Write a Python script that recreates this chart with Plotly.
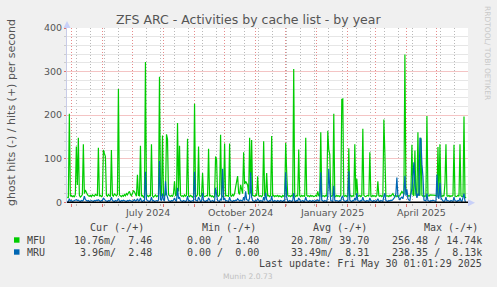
import datetime as dt
import plotly.graph_objects as go

# ---------------- data ----------------
start_day = dt.date(2024, 4, 27)

mfu_hits = [
    12, 10, 203, 14, 16, 13, 15, 12, 18, 128,
    40, 148, 16, 12, 14, 18, 133, 20, 28, 22,
    18, 15, 14, 16, 13, 17, 15, 14, 18, 16,
    15, 125, 14, 16, 13, 15, 120, 112, 105, 16,
    14, 18, 15, 13, 120, 16, 14, 20, 17, 15,
    18, 260, 17, 15, 13, 16, 14, 18, 15, 20,
    17, 22, 25, 18, 15, 20, 27, 24, 18, 14,
    63, 16, 15, 130, 14, 16, 12, 15, 322, 18,
    15, 13, 16, 14, 133, 15, 12, 14, 17, 13,
    15, 16, 288, 20, 14, 153, 16, 15, 18, 156,
    145, 18, 15, 14, 16, 13, 20, 48, 15, 17,
    182, 25, 130, 16, 14, 15, 13, 17, 14, 16,
    146, 15, 13, 16, 14, 12, 15, 226, 16, 14,
    18, 128, 15, 14, 16, 67, 15, 13, 14, 16,
    15, 123, 14, 16, 13, 15, 12, 14, 105, 98,
    15, 14, 17, 155, 16, 13, 15, 135, 14, 16,
    15, 13, 135, 16, 14, 18, 15, 20, 35, 45,
    60, 22, 18, 40, 25, 20, 115, 42, 48, 45,
    40, 18, 148, 20, 143, 16, 15, 14, 17, 15,
    60, 16, 14, 15, 13, 16, 140, 15, 14, 67,
    14, 16, 13, 15, 152, 14, 16, 13, 15, 14,
    16, 13, 15, 14, 12, 16, 14, 15, 136, 67,
    16, 14, 15, 13, 16, 14, 306, 15, 13, 16,
    14, 121, 15, 13, 16, 14, 15, 13, 148, 16,
    14, 15, 13, 16, 14, 15, 13, 14, 16, 14,
    25, 15, 14, 161, 16, 14, 15, 13, 16, 14,
    164, 121, 110, 15, 14, 16, 203, 15, 13, 16,
    14, 15, 13, 16, 236, 237, 15, 14, 16, 13,
    15, 124, 14, 16, 13, 15, 14, 133, 16, 54,
    15, 14, 16, 13, 15, 169, 16, 14, 13, 15,
    16, 14, 115, 15, 13, 16, 14, 15, 13, 16,
    48, 15, 14, 16, 13, 15, 190, 113, 16, 14,
    15, 13, 16, 14, 18, 20, 15, 14, 16, 13,
    15, 14, 16, 20, 25, 22, 18, 339, 30, 18,
    16, 14, 15, 20, 132, 18, 15, 119, 16, 14,
    161, 20, 15, 148, 16, 14, 15, 13, 16, 198,
    16, 14, 17, 17, 17, 17, 17, 17, 16, 15,
    127, 14, 133, 15, 13, 16, 14, 44, 133, 15,
    14, 16, 13, 15, 14, 16, 132, 15, 13, 14,
    16, 14, 133, 15, 13, 14, 197, 12, 10,
]

mru_hits = [
    3, 2, 8, 3, 4, 2, 3, 4, 5, 6,
    4, 5, 3, 2, 4, 3, 5, 14, 6, 4,
    3, 4, 2, 3, 4, 3, 2, 4, 3, 5,
    4, 6, 3, 2, 4, 3, 10, 5, 4, 3,
    2, 4, 3, 5, 12, 4, 3, 2, 4, 3,
    4, 9, 3, 2, 4, 3, 5, 4, 3, 2,
    4, 3, 5, 4, 3, 2, 4, 6, 3, 4,
    8, 3, 4, 10, 3, 2, 4, 3, 70, 6,
    4, 3, 2, 4, 12, 3, 4, 2, 3, 4,
    3, 5, 95, 6, 4, 20, 5, 4, 48, 18,
    12, 4, 3, 2, 4, 3, 5, 10, 4, 3,
    33, 8, 12, 4, 3, 2, 4, 3, 2, 4,
    14, 3, 4, 2, 3, 4, 3, 70, 5, 4,
    3, 12, 4, 2, 3, 22, 4, 3, 2, 4,
    3, 10, 4, 2, 3, 4, 2, 3, 33, 12,
    4, 3, 2, 8, 4, 77, 5, 10, 3, 4,
    3, 2, 12, 4, 3, 2, 4, 3, 5, 4,
    8, 4, 3, 5, 4, 3, 12, 4, 25, 6,
    5, 3, 10, 69, 12, 4, 3, 2, 4, 3,
    8, 3, 2, 4, 3, 2, 12, 4, 22, 6,
    3, 2, 4, 3, 14, 3, 2, 4, 3, 2,
    4, 3, 2, 4, 3, 2, 4, 3, 69, 12,
    3, 2, 4, 3, 2, 4, 21, 3, 2, 4,
    3, 10, 4, 2, 3, 4, 2, 3, 12, 4,
    3, 2, 4, 3, 2, 4, 3, 2, 4, 3,
    6, 3, 4, 69, 5, 3, 2, 4, 3, 2,
    14, 77, 30, 4, 3, 2, 38, 5, 3, 4,
    3, 2, 4, 3, 12, 14, 4, 3, 2, 4,
    3, 71, 5, 3, 2, 4, 3, 10, 4, 21,
    4, 3, 2, 4, 3, 12, 4, 3, 2, 4,
    3, 2, 10, 4, 3, 2, 4, 3, 2, 4,
    8, 3, 2, 4, 3, 2, 14, 21, 4, 3,
    2, 4, 3, 5, 4, 6, 8, 12, 20, 57,
    15, 8, 5, 10, 12, 8, 20, 61, 15, 30,
    8, 5, 4, 20, 30, 60, 92, 40, 25, 10,
    20, 15, 148, 145, 87, 60, 5, 4, 3, 20,
    4, 3, 2, 4, 3, 5, 4, 3, 2, 64,
    12, 8, 45, 10, 5, 3, 2, 4, 12, 3,
    4, 3, 2, 4, 3, 2, 12, 4, 3, 2,
    4, 3, 10, 3, 2, 14, 20, 3, 2,
]

dates = [start_day + dt.timedelta(days=i) for i in range(len(mfu_hits))]

title_text = "ZFS ARC - Activities by cache list - by year"
y_title = "ghost hits (-) / hits (+) per second"
y_ticks = [0, 100, 200, 300, 400]
y_minor_ticks = [20, 40, 60, 80, 120, 140, 160, 180, 220, 240, 260, 280, 320, 340, 360, 380]
month_labels = ["July 2024", "October 2024", "January 2025", "April 2025"]
month_label_dates = ["2024-07-16 12:00", "2024-10-16 12:00", "2025-01-16 00:00", "2025-04-16 00:00"]
month_starts = ["2024-05-01", "2024-06-01", "2024-07-01", "2024-08-01", "2024-09-01",
                "2024-10-01", "2024-11-01", "2024-12-01", "2025-01-01", "2025-02-01",
                "2025-03-01", "2025-04-01", "2025-05-01"]

legend_header = ["Cur (-/+)", "Min (-/+)", "Avg (-/+)", "Max (-/+)"]
series_names = ["MFU", "MRU"]
series_colors = ["#00CC00", "#0066B3"]
stats_rows = [
    ["10.76m/  7.46", "0.00 /  1.40", "20.78m/ 39.70", "256.48 / 14.74k"],
    [" 3.96m/  2.48", "0.00 /  0.00", "33.49m/  8.31", "238.35 /  8.13k"],
]
last_update = "Last update: Fri May 30 01:01:29 2025"
munin_version = "Munin 2.0.73"
watermark = "RRDTOOL/ TOBI OETIKER"

# ---------------- layout helpers ----------------
W, H = 497, 287
ML, MR, MT, MB = 67, 29, 28, 84
PW = W - ML - MR
PH = H - MT - MB


def px(x):
    return (x - ML) / PW


def py(y):
    return (MT + PH - y) / PH


def nb(s):
    return s.replace(" ", "\u00a0")


fig = go.Figure()
fig.add_trace(go.Scatter(x=dates, y=mfu_hits, mode="lines", name="MFU",
                         line=dict(color=series_colors[0], width=1.2), hoverinfo="skip"))
fig.add_trace(go.Scatter(x=dates, y=mru_hits, mode="lines", name="MRU",
                         line=dict(color=series_colors[1], width=1.2), hoverinfo="skip"))

minor_grid = "#B8B8B8"
major_grid = "#E68A8A"

fig.update_layout(
    width=W, height=H, autosize=False,
    margin=dict(l=ML, r=MR, t=MT, b=MB, pad=0),
    paper_bgcolor="#F0F0F0", plot_bgcolor="#FFFFFF",
    showlegend=False,
    font=dict(family="DejaVu Sans", size=10, color="#555555"),
    xaxis=dict(
        type="date",
        range=["2024-04-26 16:00", "2025-06-01 00:00"],
        tickmode="array", tickvals=month_starts, ticktext=[""] * len(month_starts),
        showticklabels=False,
        showgrid=True, gridcolor=major_grid, griddash="1px,2px", gridwidth=1,
        ticks="outside", ticklen=3, tickcolor="#E07070", tickwidth=1,
        zeroline=False, showline=False,
        minor=dict(tickmode="linear", tick0="2025-01-27", dtick=14 * 86400000,
                   showgrid=True, gridcolor=minor_grid, griddash="1px,2px", gridwidth=1,
                   ticks="outside", ticklen=2, tickcolor="#BBBBBB"),
        fixedrange=True,
    ),
    yaxis=dict(
        range=[-1.6, 400],
        tickvals=y_ticks,
        tickfont=dict(family="DejaVu Sans", size=9.5, color="#555555"),
        showgrid=True, gridcolor="#F4C4C4", griddash="solid", gridwidth=1,
        ticks="outside", ticklen=2, tickcolor="#E07070",
        zeroline=False, showline=True, linecolor="#C8CCE8", linewidth=1,
        minor=dict(tickmode="array", tickvals=y_minor_ticks, showgrid=True,
                   gridcolor="#E6E6E6", griddash="solid", gridwidth=1,
                   ticks="outside", ticklen=2, tickcolor="#CCCCCC"),
        fixedrange=True,
    ),
)

shapes = []
shapes.append(dict(type="line", xref="paper", yref="y", x0=0, x1=1, y0=0, y1=0,
                   line=dict(color="#000000", width=1.5), layer="above"))
shapes.append(dict(type="path", xref="paper", yref="paper",
                   path=f"M {px(63.5)} {py(28)} L {px(70.5)} {py(28)} L {px(67)} {py(21)} Z",
                   fillcolor="#C8D0F8", line=dict(width=0), layer="above"))
shapes.append(dict(type="path", xref="paper", yref="paper",
                   path=f"M {px(468)} {py(199.2)} L {px(468)} {py(206.2)} L {px(475)} {py(202.7)} Z",
                   fillcolor="#C8D0F8", line=dict(width=0), layer="above"))
for i, c in enumerate(series_colors):
    yc = 240 + 12 * i
    shapes.append(dict(type="rect", xref="paper", yref="paper",
                       x0=px(14), x1=px(19.5), y0=py(yc + 2.7), y1=py(yc - 2.7),
                       fillcolor=c, line=dict(width=0)))
fig.update_layout(shapes=shapes)

ann = []
ann.append(dict(text=title_text, xref="paper", yref="paper", x=px(248), y=py(19.5),
                xanchor="center", yanchor="middle", showarrow=False,
                font=dict(family="DejaVu Sans", size=12.5, color="#555555")))
ann.append(dict(text=y_title, xref="paper", yref="paper", x=px(11), y=py(113),
                xanchor="center", yanchor="middle", showarrow=False, textangle=-90,
                font=dict(family="DejaVu Sans", size=11, color="#555555")))
ann.append(dict(text=watermark, xref="paper", yref="paper", x=px(488), y=py(53),
                xanchor="center", yanchor="middle", showarrow=False, textangle=90,
                font=dict(family="DejaVu Sans", size=7.5, color="#C8C8C8")))
for lab, d in zip(month_labels, month_label_dates):
    ann.append(dict(text=lab, xref="x", yref="paper", x=d, y=py(212.5),
                    xanchor="center", yanchor="middle", showarrow=False,
                    font=dict(family="DejaVu Sans", size=9.5, color="#555555")))

mono = dict(family="DejaVu Sans Mono", size=10, color="#444444")
col_x = [89, 201, 312, 423]
for h, x in zip(legend_header, col_x):
    ann.append(dict(text=nb(h), xref="paper", yref="paper", x=px(x), y=py(227.5),
                    xanchor="left", yanchor="middle", showarrow=False, borderpad=0, font=mono))
val_x = [72.7, 186, 290, 391]
for r, (name, row) in enumerate(zip(series_names, stats_rows)):
    yc = 240 + 12 * r
    ann.append(dict(text=name, xref="paper", yref="paper", x=px(26), y=py(yc),
                    xanchor="left", yanchor="middle", showarrow=False, borderpad=0, font=mono))
    for v, x in zip(row, val_x):
        ann.append(dict(text=nb(v), xref="paper", yref="paper", x=px(x), y=py(yc),
                        xanchor="left", yanchor="middle", showarrow=False, borderpad=0, font=mono))
ann.append(dict(text=nb(last_update), xref="paper", yref="paper", x=px(483), y=py(263.5),
                xanchor="right", yanchor="middle", showarrow=False, borderpad=0, font=mono))
ann.append(dict(text=munin_version, xref="paper", yref="paper", x=px(248), y=py(276),
                xanchor="center", yanchor="middle", showarrow=False,
                font=dict(family="DejaVu Sans", size=7.6, color="#C0C0C0")))
fig.update_layout(annotations=ann)

fig.write_html("out.html", config={"displayModeBar": False, "staticPlot": True})
